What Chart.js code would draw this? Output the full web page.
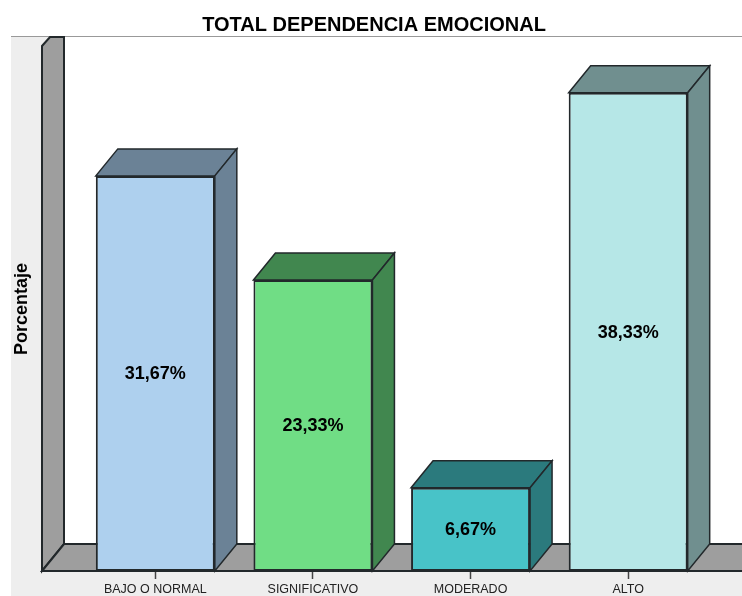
<!DOCTYPE html>
<html>
<head>
<meta charset="utf-8">
<title>Total dependencia emocional</title>
<script src="https://cdn.jsdelivr.net/npm/chart.js@4"></script>
<style>
  body { margin: 0; background: #fff; }
  canvas { display: block; }
</style>
</head>
<body>
<canvas id="barChart" width="742" height="596"></canvas>
<script>
var categories = ['BAJO O NORMAL', 'SIGNIFICATIVO', 'MODERADO', 'ALTO'];
var percentages = [31.67, 23.33, 6.67, 38.33];
var frontColors = ['#aed0ee', '#70dd85', '#48c3c8', '#b6e7e7'];
var sideColors = ['#6b8296', '#41874f', '#2b7a7d', '#708f8f'];

var EDGE = '#22282b';
var DEPTH_X = 22;
var DEPTH_Y = 27;
var WALL_LEFT = 42;
var PANEL_LEFT = 11;
var PANEL_TOP = 37;

function poly(ctx, pts, fill) {
    ctx.beginPath();
    ctx.moveTo(pts[0][0], pts[0][1]);
    for (var i = 1; i < pts.length; i++) ctx.lineTo(pts[i][0], pts[i][1]);
    ctx.closePath();
    ctx.fillStyle = fill;
    ctx.fill();
    ctx.stroke();
}

var box3d = {
    id: 'box3d',
    afterLayout: function (chart) {
        // el titulo va centrado un poco a la derecha del lienzo
        chart.titleBlock.left = 6;
        chart.titleBlock.right = chart.width;
    },
    beforeDraw: function (chart) {
        var ctx = chart.ctx;
        var w = chart.width, h = chart.height;
        ctx.save();
        ctx.fillStyle = '#fff';
        ctx.fillRect(0, 0, w, h);
        ctx.fillStyle = '#eeeeee';
        ctx.fillRect(PANEL_LEFT, PANEL_TOP, w - PANEL_LEFT, h - PANEL_TOP);
        ctx.fillStyle = '#fff';
        ctx.fillRect(WALL_LEFT + DEPTH_X, PANEL_TOP, w - WALL_LEFT - DEPTH_X, chart.chartArea.bottom - PANEL_TOP);
        ctx.fillStyle = '#999999';
        ctx.fillRect(PANEL_LEFT, PANEL_TOP - 1, w - PANEL_LEFT, 1);
        ctx.restore();
    },
    beforeDatasetsDraw: function (chart) {
        var ctx = chart.ctx;
        var base = chart.chartArea.bottom;
        var backX = WALL_LEFT + DEPTH_X;
        var backY = base - DEPTH_Y;
        var w = chart.width;
        ctx.save();
        ctx.strokeStyle = EDGE;
        ctx.lineWidth = 2;
        // pared izquierda y suelo
        poly(ctx, [[WALL_LEFT, base], [WALL_LEFT, 46], [50, PANEL_TOP], [backX, PANEL_TOP], [backX, backY]], '#9e9e9e');
        poly(ctx, [[WALL_LEFT, base], [backX, backY], [w + 4, backY], [w + 4, base]], '#9e9e9e');
        // caras superior y lateral de cada barra
        ctx.lineWidth = 1.5;
        chart.getDatasetMeta(0).data.forEach(function (bar, i) {
            var r = bar.x + bar.width / 2;
            var l = bar.x - bar.width / 2;
            poly(ctx, [[l, bar.y], [l + DEPTH_X, bar.y - DEPTH_Y], [r + DEPTH_X, bar.y - DEPTH_Y], [r, bar.y]], sideColors[i]);
            poly(ctx, [[r, bar.y], [r + DEPTH_X, bar.y - DEPTH_Y], [r + DEPTH_X, base - DEPTH_Y], [r, base]], sideColors[i]);
        });
        ctx.restore();
    },
    afterDatasetsDraw: function (chart) {
        var ctx = chart.ctx;
        var base = chart.chartArea.bottom;
        ctx.save();
        ctx.strokeStyle = EDGE;
        ctx.lineWidth = 2;
        ctx.beginPath();
        ctx.moveTo(WALL_LEFT, base);
        ctx.lineTo(chart.width, base);
        ctx.stroke();
        // porcentaje en el centro de cada barra
        ctx.fillStyle = '#000';
        ctx.font = 'bold 18px "Liberation Sans", Arial, sans-serif';
        ctx.textAlign = 'center';
        ctx.textBaseline = 'middle';
        chart.getDatasetMeta(0).data.forEach(function (bar, i) {
            ctx.fillText(percentages[i].toFixed(2).replace('.', ',') + '%', bar.x, (bar.y + base) / 2 + 1);
        });
        ctx.restore();
    }
};

var ctx = document.getElementById('barChart').getContext('2d');

var chart = new Chart(ctx, {
    type: 'bar',
    data: {
        labels: categories,
        datasets: [{
            label: 'Porcentaje',
            data: percentages,
            backgroundColor: frontColors,
            borderColor: EDGE,
            borderWidth: 2,
            borderSkipped: false,
            barPercentage: 0.755,
            categoryPercentage: 1
        }]
    },
    plugins: [box3d],
    options: {
        responsive: false,
        animation: false,
        layout: { padding: { left: 0, right: 35, top: 0, bottom: 0 } },
        plugins: {
            legend: { display: false },
            tooltip: { enabled: false },
            title: {
                display: true,
                text: 'TOTAL DEPENDENCIA EMOCIONAL',
                color: '#000',
                font: { family: '"Liberation Sans", Arial, sans-serif', size: 20, weight: 'bold', lineHeight: 1.2 },
                padding: { top: 13, bottom: 10 }
            }
        },
        scales: {
            x: {
                grid: { display: true, drawOnChartArea: false, offset: false, tickLength: 8, tickColor: '#444', tickWidth: 1.5 },
                border: { display: false },
                afterFit: function (scale) { scale.height = 25; },
                ticks: {
                    color: '#222',
                    padding: 3,
                    maxRotation: 0,
                    font: { family: '"Liberation Sans", Arial, sans-serif', size: 12.5 }
                }
            },
            y: {
                min: 0,
                max: 42,
                grid: { display: false },
                border: { display: false },
                afterFit: function (scale) { scale.width = 76.5; },
                ticks: { display: false },
                title: {
                    display: true,
                    text: 'Porcentaje',
                    color: '#000',
                    padding: { top: 11, bottom: 0 },
                    font: { family: '"Liberation Sans", Arial, sans-serif', size: 18, weight: 'bold' }
                }
            }
        }
    }
});
</script>
</body>
</html>
